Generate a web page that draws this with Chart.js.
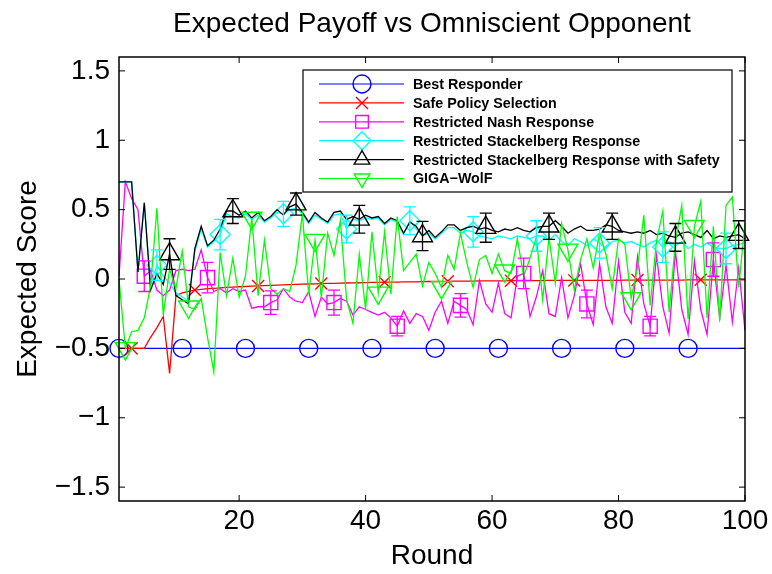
<!DOCTYPE html>
<html>
<head>
<meta charset="utf-8">
<script src="https://cdn.jsdelivr.net/npm/chart.js@4/dist/chart.umd.min.js"></script>
<style>
body { margin: 0; background: #fff; }
#wrap { width: 772px; height: 574px; }
</style>
</head>
<body>
<div id="wrap"><canvas id="myChart" width="772" height="574"></canvas></div>
<script>
// rounds 1..100
const rounds = [1,2,3,4,5,6,7,8,9,10,11,12,13,14,15,16,17,18,19,20,
  21,22,23,24,25,26,27,28,29,30,31,32,33,34,35,36,37,38,39,40,
  41,42,43,44,45,46,47,48,49,50,51,52,53,54,55,56,57,58,59,60,
  61,62,63,64,65,66,67,68,69,70,71,72,73,74,75,76,77,78,79,80,
  81,82,83,84,85,86,87,88,89,90,91,92,93,94,95,96,97,98,99,100];

const bestResponder = [-0.5,-0.5,-0.5,-0.5,-0.5,-0.5,-0.5,-0.5,-0.5,-0.5,
  -0.5,-0.5,-0.5,-0.5,-0.5,-0.5,-0.5,-0.5,-0.5,-0.5,
  -0.5,-0.5,-0.5,-0.5,-0.5,-0.5,-0.5,-0.5,-0.5,-0.5,
  -0.5,-0.5,-0.5,-0.5,-0.5,-0.5,-0.5,-0.5,-0.5,-0.5,
  -0.5,-0.5,-0.5,-0.5,-0.5,-0.5,-0.5,-0.5,-0.5,-0.5,
  -0.5,-0.5,-0.5,-0.5,-0.5,-0.5,-0.5,-0.5,-0.5,-0.5,
  -0.5,-0.5,-0.5,-0.5,-0.5,-0.5,-0.5,-0.5,-0.5,-0.5,
  -0.5,-0.5,-0.5,-0.5,-0.5,-0.5,-0.5,-0.5,-0.5,-0.5,
  -0.5,-0.5,-0.5,-0.5,-0.5,-0.5,-0.5,-0.5,-0.5,-0.5,
  -0.5,-0.5,-0.5,-0.5,-0.5,-0.5,-0.5,-0.5,-0.5,-0.5];

const safePolicy = [-0.5,-0.5,-0.5,-0.5,-0.5,-0.42,-0.35,-0.27,-0.68,-0.12,
  -0.10,-0.09,-0.08,-0.075,-0.07,-0.067,-0.064,-0.061,-0.058,-0.056,
  -0.054,-0.052,-0.05,-0.048,-0.046,-0.044,-0.042,-0.04,-0.039,-0.037,
  -0.036,-0.035,-0.033,-0.032,-0.031,-0.03,-0.029,-0.028,-0.027,-0.026,
  -0.025,-0.024,-0.023,-0.022,-0.022,-0.021,-0.02,-0.02,-0.019,-0.018,
  -0.018,-0.017,-0.017,-0.016,-0.016,-0.015,-0.015,-0.014,-0.014,-0.013,
  -0.013,-0.013,-0.012,-0.012,-0.012,-0.011,-0.011,-0.011,-0.01,-0.01,
  -0.01,-0.01,-0.01,-0.01,-0.01,-0.01,-0.01,-0.01,-0.01,-0.01,
  -0.008,-0.008,-0.008,-0.008,-0.008,-0.008,-0.008,-0.008,-0.008,-0.008,
  -0.006,-0.006,-0.006,-0.006,-0.006,-0.006,-0.006,-0.006,-0.006,-0.006];

const nashResponse = [0.02,0.70,0.58,0.50,0.02,0.06,-0.08,-0.12,-0.08,0.06,
  0.07,0.06,0.07,0.21,0.01,-0.09,-0.07,-0.10,-0.07,-0.09,
  -0.08,-0.21,-0.20,-0.20,-0.17,-0.15,-0.07,-0.13,-0.16,-0.17,
  -0.09,-0.27,-0.13,-0.18,-0.17,-0.14,-0.16,-0.26,-0.20,-0.22,
  -0.24,-0.26,-0.24,-0.28,-0.34,-0.23,-0.32,-0.25,-0.27,-0.37,
  -0.24,-0.16,-0.32,-0.16,-0.19,-0.22,-0.33,-0.01,-0.18,-0.24,
  -0.03,-0.25,-0.28,0.02,0.04,-0.27,-0.13,0.06,-0.25,-0.27,
  0.01,-0.28,-0.12,0.11,-0.18,-0.33,0.11,-0.20,-0.32,0.13,
  -0.24,-0.32,0.16,-0.18,-0.34,0.17,-0.20,-0.39,0.20,-0.22,
  -0.40,0.13,-0.22,-0.40,0.14,-0.28,0.10,-0.31,0.08,-0.37];

const stackResponse = [0.70,0.70,0.70,0.05,0.55,-0.05,0.10,0.02,-0.03,-0.10,
  -0.13,-0.16,0.20,0.36,0.23,0.27,0.32,0.47,0.45,0.44,
  0.47,0.43,0.46,0.41,0.44,0.48,0.47,0.50,0.51,0.47,
  0.40,0.46,0.43,0.40,0.46,0.47,0.36,0.43,0.42,0.44,
  0.43,0.44,0.39,0.43,0.41,0.32,0.42,0.36,0.31,0.33,
  0.29,0.33,0.37,0.37,0.33,0.35,0.34,0.31,0.30,0.29,
  0.31,0.30,0.29,0.31,0.30,0.29,0.31,0.31,0.28,0.32,
  0.27,0.24,0.29,0.27,0.24,0.29,0.26,0.22,0.27,0.28,
  0.26,0.27,0.25,0.23,0.26,0.28,0.23,0.27,0.24,0.27,
  0.22,0.25,0.23,0.26,0.23,0.22,0.22,0.24,0.25,0.26];

const stackSafety = [0.70,0.70,0.70,0.05,0.55,-0.08,0.04,-0.04,0.18,-0.12,
  -0.15,-0.18,0.22,0.38,0.24,0.28,0.36,0.49,0.49,0.46,
  0.49,0.44,0.48,0.42,0.45,0.50,0.46,0.52,0.54,0.48,
  0.41,0.48,0.44,0.41,0.48,0.49,0.43,0.45,0.43,0.46,
  0.44,0.45,0.40,0.44,0.42,0.33,0.41,0.38,0.31,0.35,
  0.30,0.34,0.39,0.39,0.35,0.37,0.38,0.36,0.37,0.35,
  0.34,0.36,0.35,0.37,0.35,0.34,0.37,0.38,0.38,0.42,
  0.38,0.33,0.36,0.38,0.35,0.35,0.36,0.39,0.38,0.35,
  0.34,0.33,0.34,0.33,0.35,0.32,0.33,0.31,0.30,0.33,
  0.34,0.32,0.30,0.35,0.29,0.31,0.30,0.31,0.32,0.29];

const gigaWolf = [0.00,-0.50,-0.38,-0.37,-0.28,-0.05,0.51,-0.26,0.07,-0.07,
  0.20,-0.20,-0.22,-0.14,-0.42,-0.67,0.19,-0.12,0.15,-0.13,
  0.02,0.44,-0.12,0.28,-0.07,-0.11,-0.07,-0.09,0.10,0.47,
  -0.11,0.28,-0.13,0.33,0.17,0.42,-0.15,-0.32,0.18,-0.22,
  0.34,-0.10,0.34,-0.11,0.45,0.06,0.12,0.18,-0.05,0.12,
  0.04,-0.06,0.17,0.07,0.33,0.12,-0.06,0.14,0.17,0.04,
  0.18,0.06,0.04,0.29,0.02,0.15,0.30,-0.15,0.30,-0.03,
  0.40,0.21,-0.08,0.14,0.29,0.08,0.33,0.18,-0.07,0.29,
  0.25,-0.14,0.08,0.46,-0.19,0.27,0.49,-0.24,0.27,0.53,
  -0.29,0.38,0.56,-0.28,0.38,-0.30,0.53,0.59,-0.06,0.40];

// rounds that carry a marker
const bestMarks = [1,11,21,31,41,51,61,71,81,91];
const safeMarks = [3,13,23,33,43,53,63,73,83,93];
const nashMarks = [5,15,25,35,45,55,65,75,85,95];
const stackMarks = [7,17,27,37,47,57,67,77,87,97];
const safetyMarks = [9,19,29,39,49,59,69,79,89,99];
const gigaMarks = [2,12,22,32,42,52,62,72,82,92];

// error bar half-widths at the marker rounds
const nashErr = [0.11,0.11,0.085,0.09,0.07,0.085,0.11,0.10,0.07,0.12];
const stackErr = [0.11,0.11,0.09,0.10,0.10,0.11,0.11,0.11,0.11,0.11];
const safetyErr = [0.11,0.09,0.08,0.10,0.105,0.105,0.095,0.095,0.10,0.10];

const xTicks = [20,40,60,80,100];
const yTicks = [-1.5,-1,-0.5,0,0.5,1,1.5];

const FONT = '"Liberation Sans", Arial, Helvetica, sans-serif';
const BIG = 28;

function series(label, vals, color, style, radius, marks, order, extra) {
  return Object.assign({
    label: label,
    data: rounds.map((r, i) => ({x: r, y: vals[i]})),
    borderColor: color,
    backgroundColor: color,
    borderWidth: 1.3,
    pointStyle: style,
    pointBorderColor: color,
    pointBackgroundColor: 'rgba(0,0,0,0)',
    pointBorderWidth: 1.4,
    pointRadius: ctx => marks.includes(rounds[ctx.dataIndex]) ? radius : 0,
    pointHoverRadius: ctx => marks.includes(rounds[ctx.dataIndex]) ? radius : 0,
    marks: marks,
    legendRadius: Math.min(radius, 9),
    tension: 0,
    clip: false,
    order: order
  }, extra || {});
}

const datasets = [
  series('Best Responder', bestResponder, '#0000ff', 'circle', 9, bestMarks, 6),
  series('Safe Policy Selection', safePolicy, '#ff0000', 'crossRot', 8.5, safeMarks, 5),
  series('Restricted Nash Response', nashResponse, '#ff00ff', 'rect', 10, nashMarks, 4, {errBars: nashErr}),
  series('Restricted Stackelberg Response', stackResponse, '#00ffff', 'rectRot', 10, stackMarks, 3, {errBars: stackErr}),
  series('Restricted Stackelberg Response with Safety', stackSafety, '#000000', 'triangle', 11.5, safetyMarks, 2, {errBars: safetyErr}),
  series('GIGA\u2212WolF', gigaWolf, '#00ff00', 'triangle', 11.5, gigaMarks, 1, {pointRotation: 180})
];

const matlabFrame = {
  id: 'matlabFrame',
  afterDatasetsDraw(chart) {
    const ctx = chart.ctx, xs = chart.scales.x, ys = chart.scales.y;
    chart.data.datasets.forEach(ds => {
      if (!ds.errBars) return;
      ctx.save();
      ctx.strokeStyle = ds.borderColor;
      ctx.lineWidth = 1.3;
      ds.marks.forEach((r, k) => {
        const i = rounds.indexOf(r);
        const v = ds.data[i].y;
        const px = xs.getPixelForValue(r);
        const top = ys.getPixelForValue(v + ds.errBars[k]);
        const bot = ys.getPixelForValue(v - ds.errBars[k]);
        ctx.beginPath();
        ctx.moveTo(px, top); ctx.lineTo(px, bot);
        ctx.moveTo(px - 6, top); ctx.lineTo(px + 6, top);
        ctx.moveTo(px - 6, bot); ctx.lineTo(px + 6, bot);
        ctx.stroke();
      });
      ctx.restore();
    });
  },
  afterDraw(chart) {
    const ctx = chart.ctx, a = chart.chartArea;
    const xs = chart.scales.x, ys = chart.scales.y;
    ctx.save();
    // box
    ctx.strokeStyle = '#000';
    ctx.lineWidth = 1.5;
    ctx.strokeRect(a.left, a.top, a.right - a.left, a.bottom - a.top);
    // inward ticks on all four sides
    ctx.lineWidth = 1;
    ctx.beginPath();
    xTicks.forEach(t => {
      const px = xs.getPixelForValue(t);
      ctx.moveTo(px, a.bottom); ctx.lineTo(px, a.bottom - 6);
      ctx.moveTo(px, a.top); ctx.lineTo(px, a.top + 6);
    });
    yTicks.forEach(t => {
      const py = ys.getPixelForValue(t);
      ctx.moveTo(a.left, py); ctx.lineTo(a.left + 6, py);
      ctx.moveTo(a.right, py); ctx.lineTo(a.right - 6, py);
    });
    ctx.stroke();

    // title
    ctx.fillStyle = '#000';
    ctx.font = BIG + 'px ' + FONT;
    ctx.textAlign = 'center';
    ctx.textBaseline = 'middle';
    ctx.fillText('Expected Payoff vs Omniscient Opponent', (a.left + a.right) / 2, 24);

    // legend
    const lx = 303, ly = 70, lw = 429, lh = 122;
    ctx.fillStyle = '#fff';
    ctx.fillRect(lx, ly, lw, lh);
    ctx.strokeStyle = '#000';
    ctx.lineWidth = 1.2;
    ctx.strokeRect(lx, ly, lw, lh);
    ctx.font = 'bold 14.3px ' + FONT;
    ctx.textAlign = 'left';
    chart.data.datasets.forEach((ds, i) => {
      const y = 84 + i * 18.9;
      ctx.strokeStyle = ds.borderColor;
      ctx.lineWidth = 1.2;
      ctx.beginPath();
      ctx.moveTo(319, y); ctx.lineTo(404, y);
      ctx.stroke();
      ctx.lineWidth = 1.4;
      ctx.fillStyle = 'rgba(0,0,0,0)';
      Chart.helpers.drawPoint(ctx, {
        pointStyle: ds.pointStyle,
        radius: ds.legendRadius,
        rotation: ds.pointRotation || 0,
        borderWidth: 1.4
      }, 362, y);
      ctx.fillStyle = '#000';
      ctx.fillText(ds.label, 413, y + 1);
    });
    ctx.restore();
  }
};

const ctx = document.getElementById('myChart');
new Chart(ctx, {
  type: 'line',
  data: { datasets: datasets },
  options: {
    responsive: false,
    animation: false,
    events: [],
    layout: { padding: { top: 57, right: 27, left: 0, bottom: 0 } },
    plugins: {
      legend: { display: false },
      tooltip: { enabled: false },
      title: { display: false }
    },
    scales: {
      x: {
        type: 'linear',
        min: 1,
        max: 100,
        grid: { display: false, drawTicks: false },
        border: { display: false },
        afterBuildTicks: s => { s.ticks = xTicks.map(v => ({value: v})); },
        afterFit: s => { s.height = 73; },
        ticks: {
          padding: 3,
          color: '#000',
          maxRotation: 0,
          autoSkip: false,
          font: { size: BIG, family: FONT }
        },
        title: {
          display: true,
          text: 'Round',
          color: '#000',
          font: { size: BIG, family: FONT },
          padding: { top: 0, bottom: 1 }
        }
      },
      y: {
        type: 'linear',
        min: -1.6,
        max: 1.6,
        grid: { display: false, drawTicks: false },
        border: { display: false },
        afterBuildTicks: s => { s.ticks = yTicks.map(v => ({value: v})); },
        afterFit: s => { s.width = 119; },
        ticks: {
          padding: 9,
          color: '#000',
          font: { size: BIG, family: FONT },
          callback: v => String(v).replace('-', '\u2212')
        },
        title: {
          display: true,
          text: 'Expected Score',
          color: '#000',
          font: { size: BIG, family: FONT },
          padding: { top: 11, bottom: 0 }
        }
      }
    }
  },
  plugins: [matlabFrame]
});
</script>
</body>
</html>
